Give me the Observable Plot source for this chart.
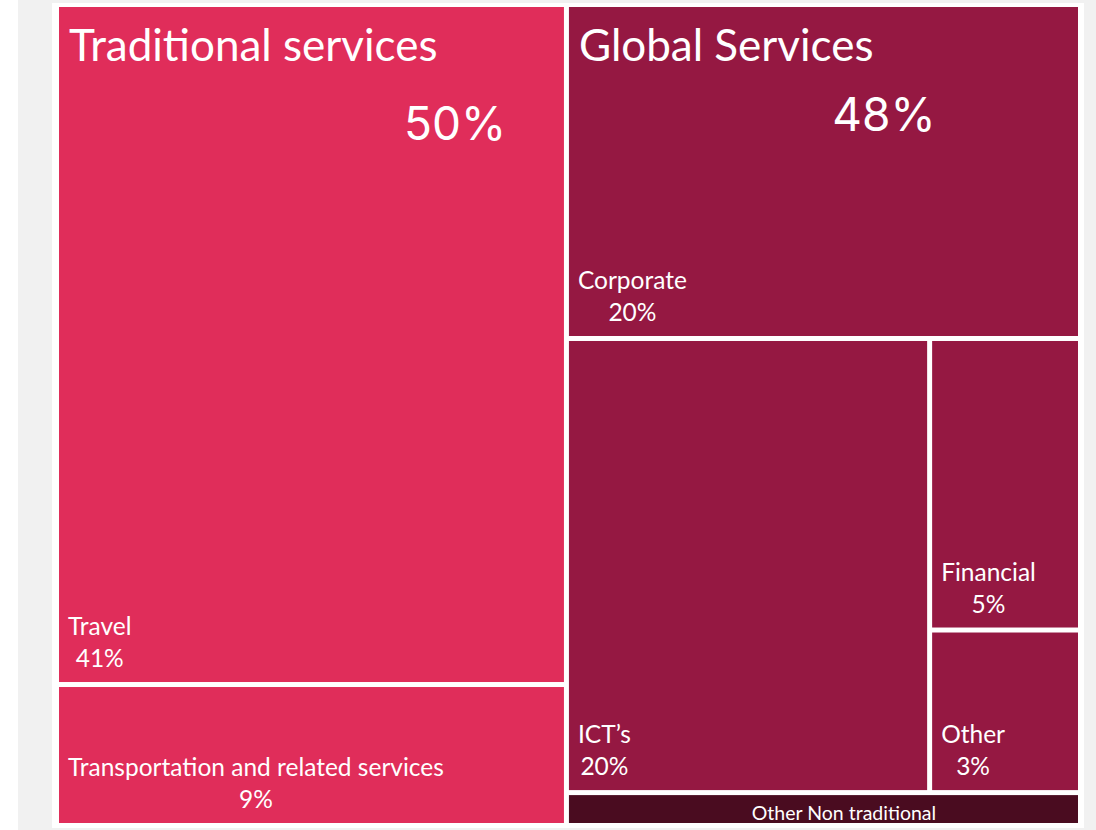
<!DOCTYPE html>
<html><head><meta charset="utf-8">
<script src="https://cdn.jsdelivr.net/npm/d3@7"></script>
<script src="https://cdn.jsdelivr.net/npm/@observablehq/plot@0.6"></script>
<style>
html,body{margin:0;padding:0;background:#fff;}
#wrap{position:relative;width:1096px;height:830px;overflow:hidden;}
#gray{position:absolute;left:18px;top:0;width:1078px;height:830px;background:#f1f1f1;}
#panel{position:absolute;left:52px;top:3px;width:1032px;height:825px;background:#fff;}
#chart{position:absolute;left:0;top:0;}
</style></head><body>
<div id="wrap"><div id="gray"></div><div id="panel"></div><div id="chart"></div></div>
<script>
// ---- data ----
const groups = ["Traditional services", "Global Services", "Other Non traditional"];
const groupColors = ["#e02d5a", "#951842", "#4a0c20"];
const categories = ["Travel", "Transportation and related services", "Corporate", "ICT’s", "Financial", "Other", "Other Non traditional"];
const categoryGroup = ["Traditional services", "Traditional services", "Global Services", "Global Services", "Global Services", "Global Services", "Other Non traditional"];
const shares = [41, 8.5, 20.3, 19.5, 5.2, 2.9, 2.0];

// ---- hierarchy (nesting / split direction only) ----
const leaf = i => ({name: categories[i], value: shares[i], group: categoryGroup[i]});
const tree = {name: "root", split: "x", children: [
  {name: groups[0], split: "y", children: [leaf(0), leaf(1)]},
  {name: "right", split: "y", children: [
    {name: groups[1], split: "y", children: [
      leaf(2),
      {name: "lower", split: "x", children: [leaf(3), {name: "small", split: "y", children: [leaf(4), leaf(5)]}]}
    ]},
    leaf(6)
  ]}
]};

const W = 1024, H = 821;
const root = d3.hierarchy(tree).sum(d => d.children ? 0 : d.value);
d3.treemap().size([W, H]).round(false)
  .tile((node, x0, y0, x1, y1) => (node.data.split === "x" ? d3.treemapDice : d3.treemapSlice)(node, x0, y0, x1, y1))(root);

const cells = root.leaves().map(n => ({name: n.data.name, group: n.data.group, value: n.data.value, x0: n.x0, x1: n.x1, y0: n.y0, y1: n.y1}));
const mainCells = cells.filter(d => d.group !== groups[2]);
const ontCells = cells.filter(d => d.group === groups[2]);
const groupNodes = root.descendants().filter(n => n.children && (n.data.name === groups[0] || n.data.name === groups[1]))
  .map(n => ({name: n.data.name, value: n.value, x0: n.x0, x1: n.x1, y0: n.y0, y1: n.y1}));

const FONT = "Lato";
const LEAF_SIZE = 24.5;
const ctx = document.createElement("canvas").getContext("2d");
const textWidth = (s, size, fam) => { ctx.font = `${size}px ${fam}`; return ctx.measureText(s).width; };
const pct = v => Math.round(v) + "%";

const chart = Plot.plot({
  width: 1096,
  height: 830,
  margin: 0,
  style: {background: "transparent", fontFamily: FONT},
  x: {domain: [0, W], range: [56.5, 1080.5], axis: null},
  y: {domain: [0, H], range: [4.5, 825.5], axis: null},
  color: {domain: groups, range: groupColors},
  marks: [
    Plot.rect(cells, {x1: "x0", x2: "x1", y1: "y0", y2: "y1", fill: "group", inset: 2.5}),
    // group titles
    Plot.text(groupNodes, {x: "x0", y: "y0", text: "name", dx: 12, dy: 56, textAnchor: "start", lineAnchor: "bottom",
      fill: "white", fontSize: 44, fontFamily: FONT}),
    // group percentages
    Plot.text(groupNodes.filter(d => d.name === groups[0]), {x: "x0", y: "y0", text: d => pct(d.value), dx: 398, dy: 135,
      textAnchor: "middle", lineAnchor: "bottom", fill: "white", fontSize: 46, fontFamily: "Inter"}),
    Plot.text(groupNodes.filter(d => d.name === groups[1]), {x: "x0", y: "y0", text: d => pct(d.value), dx: 317, dy: 126,
      textAnchor: "middle", lineAnchor: "bottom", fill: "white", fontSize: 46, fontFamily: "Inter"}),
    // leaf names
    Plot.text(mainCells, {x: "x0", y: "y1", text: "name", dx: 11, dy: -50, textAnchor: "start", lineAnchor: "bottom",
      fill: "white", fontSize: LEAF_SIZE, fontFamily: FONT}),
    // leaf percentages centred under names
    Plot.text(mainCells, {x: d => d.x0 + 11 + textWidth(d.name, LEAF_SIZE, FONT) / 2, y: "y1", text: d => pct(d.value),
      dy: -18, textAnchor: "middle", lineAnchor: "bottom", fill: "white", fontSize: LEAF_SIZE, fontFamily: FONT}),
    // thin strip label
    Plot.text(ontCells, {x: d => (d.x0 + d.x1) / 2, y: "y1", text: "name", dx: 20, dy: -6, textAnchor: "middle",
      lineAnchor: "bottom", fill: "white", fontSize: 19.5, fontFamily: FONT})
  ]
});
document.getElementById("chart").appendChild(chart);
</script>
</body></html>
